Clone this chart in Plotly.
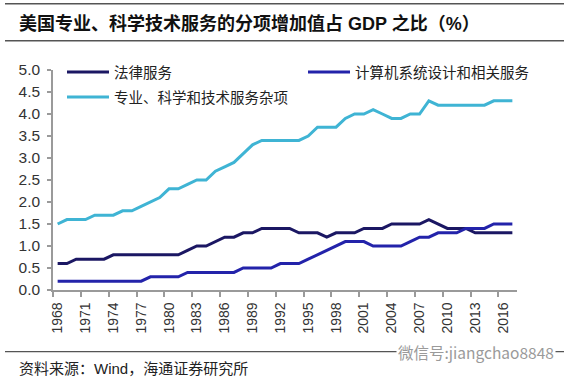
import plotly.graph_objects as go

# ---------------- data ----------------
years = list(range(1968, 2018))

legal = [0.6, 0.6, 0.7, 0.7, 0.7, 0.7, 0.8, 0.8, 0.8, 0.8,
         0.8, 0.8, 0.8, 0.8, 0.9, 1.0, 1.0, 1.1, 1.2, 1.2,
         1.3, 1.3, 1.4, 1.4, 1.4, 1.4, 1.3, 1.3, 1.3, 1.2,
         1.3, 1.3, 1.3, 1.4, 1.4, 1.4, 1.5, 1.5, 1.5, 1.5,
         1.6, 1.5, 1.4, 1.4, 1.4, 1.3, 1.3, 1.3, 1.3, 1.3]

computer = [0.2, 0.2, 0.2, 0.2, 0.2, 0.2, 0.2, 0.2, 0.2, 0.2,
            0.3, 0.3, 0.3, 0.3, 0.4, 0.4, 0.4, 0.4, 0.4, 0.4,
            0.5, 0.5, 0.5, 0.5, 0.6, 0.6, 0.6, 0.7, 0.8, 0.9,
            1.0, 1.1, 1.1, 1.1, 1.0, 1.0, 1.0, 1.0, 1.1, 1.2,
            1.2, 1.3, 1.3, 1.3, 1.4, 1.4, 1.4, 1.5, 1.5, 1.5]

misc = [1.5, 1.6, 1.6, 1.6, 1.7, 1.7, 1.7, 1.8, 1.8, 1.9,
        2.0, 2.1, 2.3, 2.3, 2.4, 2.5, 2.5, 2.7, 2.8, 2.9,
        3.1, 3.3, 3.4, 3.4, 3.4, 3.4, 3.4, 3.5, 3.7, 3.7,
        3.7, 3.9, 4.0, 4.0, 4.1, 4.0, 3.9, 3.9, 4.0, 4.0,
        4.3, 4.2, 4.2, 4.2, 4.2, 4.2, 4.2, 4.3, 4.3, 4.3]

series_names = ["法律服务", "计算机系统设计和相关服务", "专业、科学和技术服务杂项"]
tick_years = years[::3]
tick_labels = [str(y) for y in tick_years]

title_text = "<b>美国专业、科学技术服务的分项增加值占 GDP 之比（%）</b>"
source_text = "资料来源：Wind，海通证券研究所"
watermark_text = "微信号:jiangchao8848"

# ---------------- styling ----------------
W, H = 569, 380
ML, MR, MT, MB = 53, 52, 70, 90
PW, PH = W - ML - MR, H - MT - MB


def px(x):
    return (x - ML) / PW


def py(y):
    return (H - MB - y) / PH


NUM_FONT = "Liberation Sans, Arial, Noto Sans CJK SC"
CJK_FONT = "Noto Sans CJK SC, Liberation Sans"
AXIS_COLOR = "#9a9a9a"

fig = go.Figure()
fig.add_trace(go.Scatter(x=years, y=legal, name=series_names[0], mode="lines",
                         line=dict(color="#1b1763", width=3), legend="legend"))
fig.add_trace(go.Scatter(x=years, y=computer, name=series_names[1], mode="lines",
                         line=dict(color="#2323aa", width=3), legend="legend2"))
fig.add_trace(go.Scatter(x=years, y=misc, name=series_names[2], mode="lines",
                         line=dict(color="#3fb4d4", width=3), legend="legend3"))

legend_common = dict(font=dict(family=CJK_FONT, size=14.5, color="#222222"),
                     bgcolor="rgba(0,0,0,0)", borderwidth=0,
                     xanchor="left", yanchor="middle", itemwidth=42)

fig.update_layout(
    width=W, height=H,
    margin=dict(l=ML, r=MR, t=MT, b=MB),
    paper_bgcolor="white", plot_bgcolor="white",
    showlegend=True,
    legend=dict(x=px(62), y=py(72), **legend_common),
    legend2=dict(x=px(303), y=py(72), **legend_common),
    legend3=dict(x=px(62), y=py(97), **legend_common),
    xaxis=dict(
        range=[1967.5, 2017.5], tickmode="array", tickvals=tick_years, ticktext=tick_labels,
        tickangle=-90, ticks="outside", ticklen=5, tickcolor="rgba(0,0,0,0)",
        tickfont=dict(family=NUM_FONT, size=14, color="#333333"),
        showline=True, linecolor=AXIS_COLOR, linewidth=1.5,
        showgrid=False, zeroline=False,
        minor=dict(tickmode="array", tickvals=[y - 0.5 for y in tick_years],
                   ticks="outside", ticklen=5, tickcolor=AXIS_COLOR, tickwidth=1.5,
                   showgrid=False),
    ),
    yaxis=dict(
        range=[0, 5], tick0=0, dtick=0.5, tickformat=".1f",
        ticks="outside", ticklen=4, tickcolor=AXIS_COLOR, tickwidth=1.5,
        ticklabelstandoff=4,
        tickfont=dict(family=NUM_FONT, size=15.5, color="#333333"),
        showline=True, linecolor=AXIS_COLOR, linewidth=1.5,
        showgrid=False, zeroline=False,
    ),
)

# rules
fig.add_shape(type="rect", xref="paper", yref="paper", layer="above",
              x0=px(5), x1=px(564), y0=py(3), y1=py(4.5),
              fillcolor="#555555", line=dict(width=0))
for yy, col, wd in [(40.7, "#555555", 1.5), (351.7, "#555555", 1.2)]:
    fig.add_shape(type="line", xref="paper", yref="paper", layer="above",
                  x0=px(5), x1=px(564), y0=py(yy), y1=py(yy),
                  line=dict(color=col, width=wd))

fig.add_annotation(text=title_text, xref="paper", yref="paper",
                   x=px(17), y=py(23), xanchor="left", yanchor="middle",
                   showarrow=False, font=dict(family="Liberation Sans, Noto Sans CJK SC", size=18, color="#111111"))
fig.add_annotation(text=source_text, xref="paper", yref="paper",
                   x=px(17), y=py(368), xanchor="left", yanchor="middle",
                   showarrow=False, font=dict(family=NUM_FONT, size=15, color="#222222"))
fig.add_annotation(text=watermark_text, xref="paper", yref="paper",
                   x=px(396), y=py(352), xanchor="left", yanchor="middle",
                   showarrow=False, bgcolor="white",
                   font=dict(family=CJK_FONT, size=15.5, color="#9a9a9a"))

fig.write_html("out.html", config={"displayModeBar": False},
               post_script="document.body.style.margin='0';document.body.style.overflow='hidden';")
